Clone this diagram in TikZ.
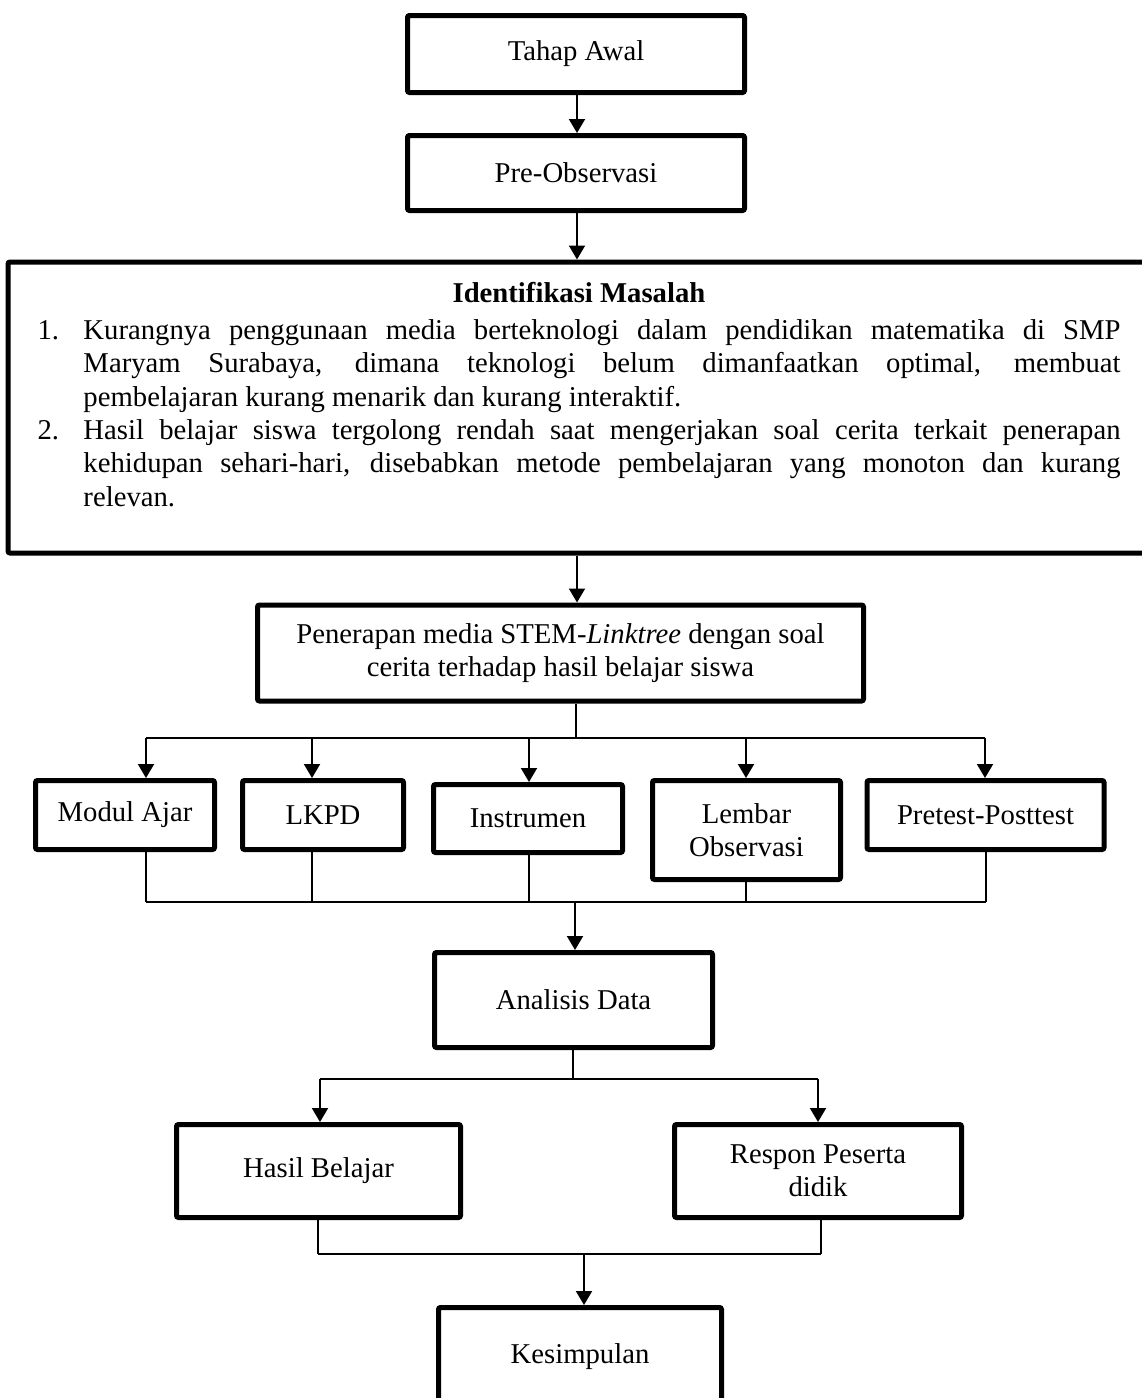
\documentclass[tikz,border=0pt]{standalone}
\usepackage{fontspec}
\setmainfont{Liberation Serif}
\usetikzlibrary{arrows.meta}
\begin{document}
\begin{tikzpicture}[x=1pt,y=-1pt,
  mybox/.style={draw, line width=5pt, rounded corners=2pt, inner sep=0pt, align=center,
    font=\fontsize{28.7}{33.4}\selectfont},
  conn/.style={draw, line width=2pt},
  arrw/.style={conn, -{Triangle[length=14pt,width=16pt]}}]
\useasboundingbox (0,0) rectangle (1142,1398);

% boxes
\node[mybox, minimum width=337pt, minimum height=77pt] (tahap) at (576,54) {Tahap Awal};
\node[mybox, minimum width=337pt, minimum height=75pt] (preobs) at (576,173) {Pre-Observasi};
\node[mybox, minimum width=1142pt, minimum height=291pt] (idm) at (579,407.5) {%
\parbox[c][251pt][t]{1083pt}{%
\makebox[1083pt][c]{\bfseries Identifikasi Masalah}\\[3.6pt]
\makebox[46pt][l]{1.}\makebox[1037pt][s]{Kurangnya penggunaan media berteknologi dalam pendidikan matematika di SMP}\\
\hspace*{46pt}\makebox[1037pt][s]{Maryam Surabaya, dimana teknologi belum dimanfaatkan optimal, membuat}\\
\hspace*{46pt}pembelajaran kurang menarik dan kurang interaktif.\\
\makebox[46pt][l]{2.}\makebox[1037pt][s]{Hasil belajar siswa tergolong rendah saat mengerjakan soal cerita terkait penerapan}\\
\hspace*{46pt}\makebox[1037pt][s]{kehidupan sehari-hari, disebabkan metode pembelajaran yang monoton dan kurang}\\
\hspace*{46pt}relevan.}};
\node[mybox, minimum width=606pt, minimum height=96pt] (pen) at (560.5,653)
  {Penerapan media STEM-\textit{Linktree} dengan soal\\cerita terhadap hasil belajar siswa};
\node[mybox, minimum width=179pt, minimum height=69pt] (modul) at (125,815) {Modul Ajar};
\node[mybox, minimum width=161pt, minimum height=69pt] (lkpd) at (323,815) {LKPD};
\node[mybox, minimum width=189pt, minimum height=68pt] (instr) at (528,818.5) {Instrumen};
\node[mybox, minimum width=188pt, minimum height=99pt] (lembar) at (746.5,830) {Lembar\\Observasi};
\node[mybox, minimum width=237pt, minimum height=69pt] (pre) at (985.5,815) {Pretest-Posttest};
\node[mybox, minimum width=278pt, minimum height=95pt] (anal) at (573.5,1000) {Analisis Data};
\node[mybox, minimum width=284pt, minimum height=93pt] (hasil) at (318.5,1171) {Hasil Belajar};
\node[mybox, minimum width=287pt, minimum height=93pt] (respon) at (818,1171) {Respon Peserta\\didik};
\node[mybox, minimum width=283pt, minimum height=99pt] (kes) at (580,1357) {Kesimpulan};

% junction coordinates
\coordinate (s1) at (577,0);
\coordinate (b1) at (576,738);
\coordinate (a1) at (146,738);
\coordinate (a2) at (312,738);
\coordinate (a3) at (529,738);
\coordinate (a4) at (746,738);
\coordinate (a5) at (985,738);
\coordinate (j1) at (146,902);
\coordinate (j2) at (312,902);
\coordinate (j3) at (529,902);
\coordinate (j4) at (746,902);
\coordinate (j5) at (986,902);
\coordinate (m1) at (575,902);
\coordinate (b2) at (573,1079);
\coordinate (c1) at (320,1079);
\coordinate (c2) at (818,1079);
\coordinate (d1) at (318,1254);
\coordinate (d2) at (821,1254);
\coordinate (m2) at (584,1254);

% connectors
\draw[arrw] (tahap.south -| s1) -- (preobs.north -| s1);
\draw[arrw] (preobs.south -| s1) -- (idm.north -| s1);
\draw[arrw] (idm.south -| s1) -- (pen.north -| s1);

\draw[conn] (pen.south -| b1) -- (b1);
\draw[conn] (a1) -- (a5);
\draw[arrw] (a1) -- (a1 |- modul.north);
\draw[arrw] (a2) -- (a2 |- lkpd.north);
\draw[arrw] (a3) -- (a3 |- instr.north);
\draw[arrw] (a4) -- (a4 |- lembar.north);
\draw[arrw] (a5) -- (a5 |- pre.north);

\draw[conn] (modul.south -| j1) -- (j1);
\draw[conn] (lkpd.south -| j2) -- (j2);
\draw[conn] (instr.south -| j3) -- (j3);
\draw[conn] (lembar.south -| j4) -- (j4);
\draw[conn] (pre.south -| j5) -- (j5);
\draw[conn] (j1) -- (j5);
\draw[arrw] (m1) -- (anal.north -| m1);

\draw[conn] (anal.south -| b2) -- (b2);
\draw[conn] (c1) -- (c2);
\draw[arrw] (c1) -- (c1 |- hasil.north);
\draw[arrw] (c2) -- (c2 |- respon.north);

\draw[conn] (hasil.south -| d1) -- (d1);
\draw[conn] (respon.south -| d2) -- (d2);
\draw[conn] (d1) -- (d2);
\draw[arrw] (m2) -- (kes.north -| m2);
\end{tikzpicture}
\end{document}
